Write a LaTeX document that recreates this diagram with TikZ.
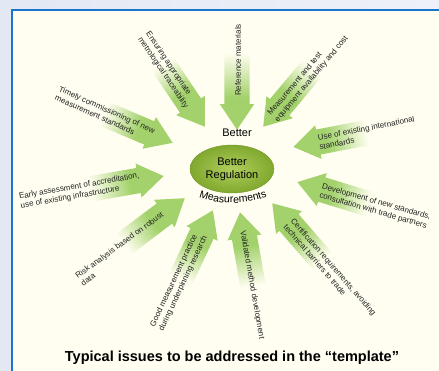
\documentclass[tikz,border=0pt]{standalone}
\usepackage{fontspec}
\setmainfont{Liberation Sans}
\usepackage{xcolor}
\usepackage{tikz}
\usetikzlibrary{shapes.geometric, shapes.arrows, decorations.text}

\definecolor{outerbg}{RGB}{238,241,248}
\definecolor{outerleft}{RGB}{226,232,244}
\definecolor{panelcream}{RGB}{255,254,240}
\definecolor{frameblue}{RGB}{24,118,204}
\definecolor{issuegreen}{RGB}{163,210,108}
\definecolor{hubinner}{RGB}{176,206,92}
\definecolor{hubouter}{RGB}{128,168,46}
\definecolor{labelgray}{RGB}{34,34,34}

\pgfdeclarehorizontalshading{issuefade}{100bp}{color(0bp)=(panelcream); color(30bp)=(panelcream); color(56bp)=(issuegreen); color(100bp)=(issuegreen)}

\begin{document}
\begin{tikzpicture}[x=1pt, y=1pt,
  issue arrow/.style={single arrow, shade, shading=issuefade, draw=none,
    inner xsep=0pt, inner ysep=12.5pt, minimum height=85pt,
    single arrow head extend=4.5pt, single arrow tip angle=68,
    anchor=tip, rotate=#1, shading angle=#1},
  issue/.style={font=\fontsize{8}{9.5}\selectfont, align=left, inner sep=0pt, text=labelgray},
  hub/.style={ellipse, inner color=hubinner, outer color=hubouter, draw=hubouter!90!black,
    minimum width=84pt, minimum height=48pt, align=center, inner sep=0pt,
    font=\fontsize{11}{13}\selectfont},
  title/.style={font=\fontsize{14.5}{17}\selectfont\bfseries, inner sep=0pt}]

\useasboundingbox (0,0) rectangle (439,371);

% background and frame
\shade[left color=outerleft, right color=outerbg] (0,0) rectangle (439,371);
\fill[panelcream] (12,0) rectangle (439,361);
\draw[frameblue, line width=1.2pt] (12,0) -- (12,361) -- (439,361);

% arrows
\node[issue arrow=-90] (refarrow) at (237,241) {};
\node[issue arrow=230] (equiparrow) at (263,244) {};
\node[issue arrow=191] (intlarrow) at (293,224) {};
\node[issue arrow=163] (devarrow) at (297,189) {};
\node[issue arrow=131] (certarrow) at (272,168) {};
\node[issue arrow=100] (validarrow) at (240,159) {};
\node[issue arrow=65] (practarrow) at (213,161) {};
\node[issue arrow=37] (riskarrow) at (185,173) {};
\node[issue arrow=10] (accredarrow) at (164,195) {};
\node[issue arrow=-23] (timelyarrow) at (173,228) {};
\node[issue arrow=-56] (tracearrow) at (205,244) {};

% arrow texts
\node[issue, rotate=90] (reflabel) at (238,311) {Reference materials};
\node[issue, rotate=50] (equiplabel) at (308,295) {Measurement and test\\equipment availability and cost};
\node[issue, rotate=11] (intllabel) at (367,238) {Use of existing international\\standards};
\node[issue, rotate=-16] (devlabel) at (375,164.5) {Development of new standards,\\consultation with trade partners};
\node[issue, rotate=-49] (certlabel) at (330,101) {Certification requirements, avoiding\\technical barriers to trade};
\node[issue, rotate=-80] (validlabel) at (252,86) {Validated method development};
\node[issue, rotate=65] (practlabel) at (179,89.5) {Good measurement practice\\during underpinning research};
\node[issue, rotate=36] (risklabel) at (122,122) {Risk analysis based on robust\\data};
\node[issue, rotate=10] (accredlabel) at (80,180) {Early assessment of accreditation,\\use of existing infrastructure};
\node[issue, rotate=-24] (timelylabel) at (105,257) {Timely commissioning of new\\measurement standards};
\node[issue, rotate=-56] (tracelabel) at (167,301) {Ensuring appropriate\\metrological traceability};

% centre
\node[hub] (hub) at (232,202) {Better\\Regulation};
\node[font=\fontsize{11}{13}\selectfont, inner sep=0pt] (bettertop) at (237,238) {Better};
\path[decorate, decoration={text along path, text align=center,
  text={|\fontsize{10.5}{12}\selectfont|Measurements}}]
  (233,268) ++(235:100) arc[start angle=235, end angle=305, radius=100];

% title
\node[title] (title) at (232,13) {Typical issues to be addressed in the “template”};

\end{tikzpicture}
\end{document}
